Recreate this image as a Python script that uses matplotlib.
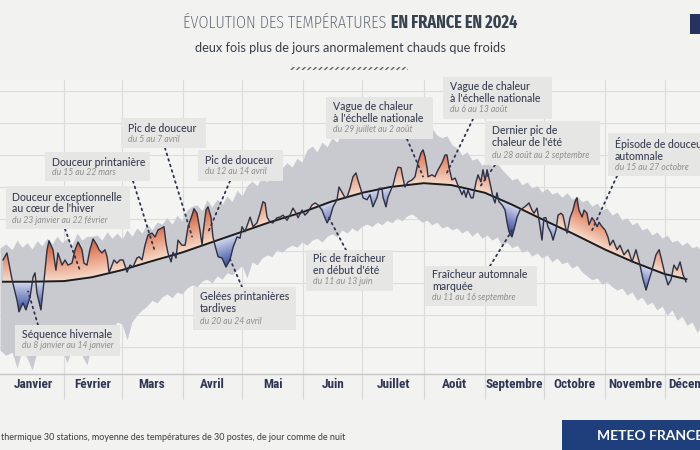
import os
import numpy as np
import matplotlib
matplotlib.use("Agg")
import matplotlib.pyplot as plt
from matplotlib.patches import Rectangle
from matplotlib.colors import LinearSegmentedColormap
from matplotlib import font_manager as fm

# ---------------- data (day of year 2024, °C) ----------------
month_names = ["Janvier", "Février", "Mars", "Avril", "Mai", "Juin", "Juillet",
               "Août", "Septembre", "Octobre", "Novembre", "Décembre"]
month_starts = [0, 31, 60, 91, 121, 152, 182, 213, 244, 274, 305, 335, 366]

temp_days = [0, 2.0, 4.6, 7.1, 8.1, 10.1, 11.6, 13.7, 15.2, 16.2, 17.2, 19.2, 20.3, 22.3, 23.3,
             25.3, 26.8, 27.8, 29.9, 31.4, 32.9, 34.9, 36.5, 38.0, 40.0, 41.0, 42.5, 44.0, 45.6,
             47.6, 48.6, 50.1, 51.6, 52.7, 53.7, 55.2, 56.2, 57.7, 59.2, 60.8, 62.8, 64.3, 65.8,
             67.8, 68.9, 70.4, 71.9, 73.4, 75.4, 77.0, 78.5, 80.5, 81.5, 82.5, 83.5, 85.1, 86.1,
             87.6, 88.6, 90.6, 92.2, 93.7, 95.7, 96.7, 98.2, 99.7, 100.8, 101.3, 102.8, 103.8,
             105.3, 106.3, 107.3, 108.9, 110.9, 112.9, 114.9, 116.5, 118.5, 120.0, 121.0, 122.5,
             125.1, 126.6, 128.6, 130.1, 131.6, 132.7, 133.7, 135.2, 136.7, 138.7, 140.3, 141.8,
             143.8, 145.3, 146.8, 148.4, 149.4, 151.4, 152.9, 154.4, 156.5, 158.0, 159.5, 161.5,
             163.0, 164.1, 165.6, 167.1, 169.1, 170.1, 171.6, 173.2, 174.2, 175.7, 177.2, 178.7,
             179.7, 181.3, 182.3, 184.3, 185.8, 187.3, 189.4, 190.4, 191.9, 192.4, 193.9, 194.9,
             197.0, 197.5, 199.0, 200.0, 201.5, 202.5, 203.5, 205.1, 207.1, 208.6, 210.1, 211.6,
             212.7, 213.7, 214.7, 215.2, 217.2, 218.7, 220.3, 222.3, 223.8, 224.8, 225.8, 227.3,
             228.9, 229.9, 231.4, 232.4, 233.4, 234.4, 235.4, 237.0, 238.0, 239.5, 240.5, 242.0,
             243.0, 244.1, 245.1, 246.6, 248.1, 249.1, 250.1, 251.1, 252.7, 254.2, 255.2, 256.2,
             257.7, 258.7, 260.3, 261.8, 263.3, 265.3, 266.3, 267.8, 268.9, 270.4, 271.4, 272.9,
             273.9, 274.9, 275.9, 277.5, 278.5, 280.0, 281.0, 282.5, 283.5, 285.1, 285.6, 287.1,
             288.6, 289.6, 290.6, 291.6, 293.2, 294.2, 295.7, 296.7, 298.2, 299.2, 300.8, 301.8,
             303.3, 304.8, 306.3, 307.3, 308.9, 310.9, 312.4, 314.4, 316.5, 318.5, 320.5, 322.5,
             324.1, 325.6, 327.1, 328.6, 330.6, 332.2, 333.7, 335.2, 336.7, 338.2, 339.7, 341.3,
             342.8, 344.3, 345.8]
temps = [8.6, 9.7, 5.5, 2.3, 0.5, 1.9, 0.8, 2.8, 5.9, 6.6, 3.4, 0.8, 3.9, 10.2, 11.6,
         10.2, 7.0, 9.7, 7.8, 8.6, 7.8, 8.1, 10.2, 11.4, 10.2, 8.1, 7.8, 10.2, 11.9,
         10.9, 10.2, 9.7, 10.2, 9.1, 6.6, 7.8, 8.6, 8.1, 8.6, 8.6, 6.7, 7.8, 7.5,
         8.9, 9.1, 8.6, 10.9, 12.5, 12.8, 12.2, 13.3, 13.6, 13.8, 11.3, 9.7, 8.3, 9.8,
         8.9, 11.7, 10.9, 10.9, 13.8, 15.6, 16.6, 15.9, 13.3, 10.9, 12.8, 16.4, 16.9,
         15.3, 12.2, 10.9, 9.1, 8.9, 7.5, 8.6, 10.6, 12.2, 12.0, 13.8, 13.0,
         15.3, 13.8, 14.4, 15.9, 17.7, 17.5, 15.3, 14.5, 14.4, 15.2, 15.3, 15.6,
         14.8, 15.6, 16.7, 15.9, 15.2, 16.4, 15.6, 16.1, 17.2, 17.5, 17.2, 16.4,
         15.2, 14.4, 15.3, 16.9, 18.0, 20.0, 19.2, 18.3, 18.4, 19.8, 21.6, 22.2,
         21.1, 19.5, 18.3, 18.0, 18.8, 16.9, 18.4, 19.8, 19.8, 18.4, 16.9, 18.4,
         20.0, 20.3, 22.2, 23.1, 23.0, 21.4, 20.0, 20.8, 21.1, 21.6, 23.8, 25.3,
         25.8, 24.7, 23.0, 21.6, 21.9, 21.6, 22.7, 23.8, 25.0, 25.0, 23.1, 21.1,
         21.4, 20.6, 19.5, 18.8, 19.5, 18.4, 19.5, 18.3, 18.3, 20.8, 21.9, 20.8,
         22.7, 21.1, 22.7, 20.6, 18.4, 17.5, 19.1, 17.7, 17.2, 16.4, 14.5, 13.0,
         12.2, 13.3, 15.3, 16.4, 16.7, 17.2, 17.5, 16.4, 15.9, 16.7, 14.8, 11.7,
         15.2, 15.2, 13.8, 12.8, 11.7, 13.3, 15.6, 15.9, 15.6, 13.3, 12.8, 15.2,
         16.4, 17.7, 18.3, 16.4, 15.3, 16.4, 15.9, 14.1, 15.2, 14.8, 13.8, 14.5,
         13.8, 13.3, 12.2, 10.9, 11.7, 10.2, 10.9, 9.4, 10.2, 8.3, 10.2, 7.8,
         5.5, 3.9, 5.5, 7.0, 9.4, 10.2, 8.3, 6.3, 4.7, 5.5, 7.8, 7.0,
         8.3, 6.3, 5.2]

normal_days = [0, 14, 31, 45, 60, 74, 91, 105, 121, 135, 152, 166, 182, 196, 213, 227,
               244, 258, 274, 288, 305, 319, 335, 346]
normal_vals = [5.2, 5.2, 5.3, 5.9, 7.0, 8.3, 9.8, 11.3, 13.0, 14.5, 16.1, 17.7, 19.1, 20.0,
               20.6, 20.3, 19.1, 17.2, 14.8, 12.8, 10.2, 8.3, 6.4, 5.6]

band_days = [-1.5, 1.5, 4.6, 7.1, 9.6, 12.2, 14.7, 17.2, 19.7, 22.3, 24.8, 27.3, 29.9, 32.4,
             34.9, 37.5, 40.0, 42.5, 45.1, 47.6, 50.1, 52.7, 55.2, 57.7, 60.3, 62.8, 65.3,
             67.8, 70.4, 72.9, 75.4, 78.0, 80.5, 83.0, 85.6, 88.1, 90.6, 93.2, 95.7, 98.2,
             100.8, 103.3, 105.8, 108.4, 110.9, 113.4, 115.9, 118.5, 121.0, 123.5, 126.1,
             128.6, 131.1, 133.7, 136.2, 138.7, 141.3, 143.8, 146.3, 148.9, 151.4, 153.9,
             156.5, 159.0, 161.5, 164.1, 166.6, 169.1, 171.6, 174.2, 176.7, 179.2, 181.8,
             184.3, 186.8, 189.4, 191.9, 194.4, 197.0, 199.5, 202.0, 204.6, 207.1, 209.6,
             212.2, 214.7, 217.2, 219.7, 222.3, 224.8, 227.3, 229.9, 232.4, 234.9, 237.5,
             240.0, 242.5, 245.1, 247.6, 250.1, 252.7, 255.2, 257.7, 260.3, 262.8, 265.3,
             267.8, 270.4, 272.9, 275.4, 278.0, 280.5, 283.0, 285.6, 288.1, 290.6, 293.2,
             295.7, 298.2, 300.8, 303.3, 305.8, 308.4, 310.9, 313.4, 315.9, 318.5, 321.0,
             323.5, 326.1, 328.6, 331.1, 333.7, 336.2, 338.7, 341.3, 343.8, 346.3, 348.9,
             351.4, 352.9]
band_high = [10.5, 11.1, 10.2, 11.7, 10.6, 11.3, 10.3, 11.6, 10.8, 12.0, 11.1, 12.3, 11.3, 12.0,
             10.9, 12.8, 11.7, 12.3, 12.3, 12.5, 11.7, 13.0, 12.0, 12.8, 11.9, 13.3, 12.3,
             13.6, 12.8, 14.2, 13.3, 14.5, 14.2, 15.2, 14.2, 15.6, 14.7, 16.4, 17.0, 17.2,
             16.3, 18.0, 16.9, 18.1, 17.3, 18.6, 17.7, 19.5, 18.6, 20.2, 20.9, 20.2, 21.6,
             20.8, 22.3, 21.4, 23.0, 23.8, 23.1, 24.5, 23.9, 25.8, 26.4, 25.5, 27.0, 26.3,
             27.7, 27.0, 28.6, 28.0, 29.5, 28.9, 29.8, 28.4, 29.2, 28.1, 29.5, 28.6, 29.8,
             29.2, 30.2, 28.9, 30.5, 29.7, 30.2, 28.9, 29.2, 28.1, 27.7, 28.0, 26.6, 26.1,
             25.0, 25.5, 24.2, 24.5, 23.4, 23.9, 23.3, 23.8, 22.7, 21.9, 21.1, 21.4, 20.3,
             20.8, 19.8, 20.2, 19.2, 19.8, 18.9, 19.2, 18.4, 19.1, 18.1, 18.6, 17.7, 18.0,
             17.0, 17.5, 16.4, 16.7, 15.6, 16.1, 14.8, 15.2, 14.1, 14.5, 13.3, 13.6, 12.5,
             13.0, 12.0, 12.5, 11.4, 11.7, 10.9, 11.4, 10.5, 10.8, 10.2]
band_low = [-5.5, -6.3, -5.8, -8.3, -5.5, -6.7, -8.6, -5.8, -5.0, -5.5, -4.8, -5.8, -5.2, -7.5,
            -5.3, -5.0, -6.3, -7.8, -4.5, -3.6, -2.8, -1.7, -2.3, -1.1, -1.4, -3.9, -1.1,
            0.0, 0.8, 1.4, 2.3, 1.9, 2.8, 3.3, 2.7, 3.6, 3.3, 4.2, 4.7, 4.4,
            5.3, 5.6, 5.0, 6.1, 5.6, 6.6, 6.3, 7.0, 7.7, 5.8, 8.3, 7.8, 8.9,
            9.4, 9.1, 10.2, 9.8, 10.5, 10.9, 10.6, 11.4, 10.9, 11.7, 12.0, 11.4, 12.3,
            12.7, 12.2, 13.3, 12.8, 13.6, 13.1, 13.9, 14.2, 13.8, 14.5, 14.1, 14.8, 14.4,
            15.2, 14.7, 15.5, 15.8, 15.2, 14.5, 14.8, 14.1, 14.5, 13.6, 13.9, 13.3, 13.6,
            12.8, 13.3, 12.3, 13.0, 12.0, 12.5, 11.7, 12.2, 10.9, 11.4, 10.5, 10.9, 9.8,
            10.2, 9.2, 9.7, 8.9, 9.4, 8.3, 8.9, 8.0, 8.3, 7.3, 7.8, 6.7, 6.1,
            5.5, 5.8, 4.8, 5.2, 4.4, 3.9, 4.2, 3.1, 3.6, 2.3, 2.8, 1.6, 2.0,
            0.8, 1.4, 0.0, 0.8, -0.8, -0.2, -1.6, -1.1, -2.7, -2.0]

# ---------------- fonts ----------------
SANS = ["Lato", "DejaVu Sans"]


def _wnum(w):
    if isinstance(w, (int, float)):
        return w
    table = {"ultralight": 200, "light": 300, "normal": 400, "regular": 400, "book": 400,
             "medium": 500, "semibold": 600, "demibold": 600, "bold": 700, "heavy": 800,
             "extra bold": 800, "black": 900}
    return table.get(str(w).lower(), 400)


def _cond_level(f, key):
    k = key.replace("-", "").replace(" ", "")
    st = str(f.stretch)
    if "extracondensed" in k or "ultracondensed" in k or st in ("extra-condensed", "ultra-condensed"):
        return 3
    if "semicondensed" in k or st == "semi-condensed":
        return 1
    if "condensed" in k or "narrow" in k or st == "condensed":
        return 2
    return 0


def pick_condensed(target_w, min_level, prefer_extra):
    pref = ["roboto", "liberation sans narrow", "open sans", "noto sans", "lato", "dejavu sans"]
    best, best_score = None, None
    for f in fm.fontManager.ttflist:
        key = (f.name + " " + os.path.basename(f.fname)).lower()
        lvl = _cond_level(f, key)
        if lvl < min_level or f.style != "normal" or "mono" in key:
            continue
        if "serif" in key and "sans" not in key:
            continue
        if "italic" in key:
            continue
        w = _wnum(f.weight)
        rank = next((i for i, p in enumerate(pref) if p in key), len(pref))
        cond_pen = (3 - lvl) if prefer_extra else abs(2 - lvl)
        score = (abs(w - target_w) // 100, cond_pen, rank)
        if best_score is None or score < best_score:
            best, best_score = f.fname, score
    if best:
        return fm.FontProperties(fname=best)
    return fm.FontProperties(family="Liberation Sans", weight="bold" if target_w >= 600 else "normal")


TITLE_REG = pick_condensed(300, 2, True)
TITLE_BOLD = pick_condensed(700, 2, True)
MONTH_FP = pick_condensed(700, 1, False)

# ---------------- figure ----------------
W, H = 700, 450
BG = "#f2f2f0"

fig = plt.figure(figsize=(7, 4.5), dpi=100)
fig.patch.set_facecolor(BG)


def fx(px):
    return px / W


def fy(py):
    return 1 - py / H


ax_top, ax_bot = 80, 374
ax = fig.add_axes([0, fy(ax_bot), 1, (ax_bot - ax_top) / H])
ax.set_facecolor("#f4f4f3")
ax.set_xlim(-1.52, 352.9)
ax.set_ylim((315 - ax_bot) / 6.4, (315 - ax_top) / 6.4)

for s in ["top", "left", "right"]:
    ax.spines[s].set_visible(False)
ax.spines["bottom"].set_color("#c6c6c6")
ax.spines["bottom"].set_linewidth(1.0)

ax.set_yticks(np.arange(-5, 40, 5))
ax.set_yticklabels([])
ax.tick_params(axis="y", length=0)
mids = [(month_starts[i] + month_starts[i + 1]) / 2 for i in range(12)]
ax.set_xticks(mids)
ax.set_xticklabels(month_names, color="#2e3654")
mfp = MONTH_FP.copy()
mfp.set_size(9.5)
for lbl in ax.get_xticklabels():
    lbl.set_fontproperties(mfp)
ax.set_xticks(month_starts[1:-1], minor=True)
ax.tick_params(axis="x", which="major", length=0, pad=3)
ax.tick_params(axis="x", which="minor", length=18, width=0.8, color="#d6d6d6")
ax.grid(axis="y", which="major", color="#dcdcdc", lw=0.8)
ax.grid(axis="x", which="minor", color="#dcdcdc", lw=0.8)
ax.set_axisbelow(True)

# grey envelope
ax.fill_between(band_days, band_low, band_high, color="#c9cad0", lw=0, zorder=1)

# anomaly fills with gradient by distance to normal
xf = np.linspace(temp_days[0], temp_days[-1], 5000)
tf = np.interp(xf, temp_days, temps)
nf = np.interp(xf, normal_days, normal_vals)
anom = tf - nf
red_cmap = LinearSegmentedColormap.from_list("r", ["#f5d8c6", "#e8997a", "#d0552f"])
blue_cmap = LinearSegmentedColormap.from_list("b", ["#cfd4ea", "#7f8ec6", "#33489a"])
for lv in np.arange(0, 7.5, 0.3):
    ax.fill_between(xf, nf + lv, tf, where=anom > lv, interpolate=True,
                    color=red_cmap(min(lv / 6.0, 1)), lw=0, zorder=2)
    ax.fill_between(xf, nf - lv, tf, where=anom < -lv, interpolate=True,
                    color=blue_cmap(min(lv / 4.5, 1)), lw=0, zorder=2)

ax.plot(normal_days, normal_vals, color="#1c1c1c", lw=1.4, zorder=3)
ax.plot(temp_days, temps, color="#2c3145", lw=1.0, zorder=4)


# ---------------- annotations ----------------
def label(lines, sub, box, tx, ys, start, anchor_day, frac):
    x0, y0, x1, y1 = box
    fig.add_artist(Rectangle((fx(x0), fy(y1)), (x1 - x0) / W, (y1 - y0) / H,
                             transform=fig.transFigure, facecolor="#e6e6e5",
                             edgecolor="none", zorder=5))
    for s, y in zip(lines, ys[:-1]):
        fig.text(fx(tx), fy(y), s, family=SANS, fontsize=7.6, color="#3a3f52",
                 fontweight="medium", va="center", ha="left", zorder=6)
    fig.text(fx(tx), fy(ys[-1]), sub, family=SANS, fontsize=6.2, style="italic",
             color="#8e8e8e", va="center", ha="left", zorder=6)
    t = np.interp(anchor_day, temp_days, temps)
    n = np.interp(anchor_day, normal_days, normal_vals)
    ax.annotate("", xy=(anchor_day, n + frac * (t - n)),
                xytext=(fx(start[0]), fy(start[1])), textcoords="figure fraction",
                arrowprops=dict(arrowstyle="-", linestyle=(0, (1, 2.2)), color="#2e3550",
                                lw=1.3, shrinkA=0, shrinkB=0),
                annotation_clip=False, zorder=5)


label(["Douceur exceptionnelle", "au cœur de l'hiver"], "du 23 janvier au 22 février",
      (6, 186, 130, 229), 12, [197, 209, 221], (65, 229), 39, 0.25)
label(["Douceur printanière"], "du 15 au 22 mars",
      (45, 152, 150, 181), 52, [163, 173], (133, 181), 77, 0.35)
label(["Pic de douceur"], "du 5 au 7 avril",
      (121, 118, 206, 148), 128, [128, 139], (165, 148), 95.7, 0.37)
label(["Pic de douceur"], "du 12 au 14 avril",
      (198, 150, 283, 181), 205, [161, 172], (230, 181), 103.8, 0.3)
label(["Gelées printanières", "tardives"], "du 20 au 24 avril",
      (193, 287, 296, 330), 200, [297, 309, 321], (242, 287), 114.4, 0.8)
label(["Vague de chaleur", "à l'échelle nationale"], "du 29 juillet au 2 août",
      (326, 97, 433, 139), 333, [107, 119, 130], (407, 139), 212.7, 0.2)
label(["Vague de chaleur", "à l'échelle nationale"], "du 6 au 13 août",
      (443, 77, 552, 119), 450, [87, 99, 110], (473, 119), 224.0, 0.3)
label(["Dernier pic de", "chaleur de l'été"], "du 28 août au 2 septembre",
      (485, 121, 600, 165), 492, [131, 143, 155], (495, 165), 241.5, 0.4)
label(["Épisode de douceur", "automnale"], "du 15 au 27 octobre",
      (608, 133, 705, 176), 615, [144, 156, 167], (617, 176), 298.2, 0.5)
label(["Pic de fraîcheur", "en début d'été"], "du 11 au 13 juin",
      (306, 250, 393, 291), 313, [259, 271, 281], (346, 250), 164.5, 0.7)
label(["Fraîcheur automnale", "marquée"], "du 11 au 16 septembre",
      (425, 266, 537, 306), 432, [275, 287, 298], (490, 266), 257.7, 0.8)
label(["Séquence hivernale"], "du 8 janvier au 14 janvier",
      (15, 325, 120, 356), 22, [335, 346], (38, 325), 12.7, 0.45)

# ---------------- title block ----------------
tfp1 = TITLE_REG.copy()
tfp2 = TITLE_BOLD.copy()
base = 16
tfp1.set_size(base)
tfp2.set_size(base)
t1 = fig.text(0, fy(23), "ÉVOLUTION DES TEMPÉRATURES", fontproperties=tfp1,
              color="#5c646e", va="center", ha="left")
t2 = fig.text(0, fy(23), "EN FRANCE EN 2024", fontproperties=tfp2,
              color="#38434f", va="center", ha="left")
fig.canvas.draw()
r = fig.canvas.get_renderer()
w1 = t1.get_window_extent(r).width
w2 = t2.get_window_extent(r).width
target = 334.0
scale = min(1.0, target / (w1 + w2 + 5))
if scale < 1.0:
    tfp1.set_size(base * scale)
    tfp2.set_size(base * scale)
    t1.set_fontproperties(tfp1)
    t2.set_fontproperties(tfp2)
    fig.canvas.draw()
    w1 = t1.get_window_extent(r).width
    w2 = t2.get_window_extent(r).width
gap = 5
x_start = (W - (w1 + gap + w2)) / 2
t1.set_x(fx(x_start))
t2.set_x(fx(x_start + w1 + gap))

fig.text(0.5, fy(48), "deux fois plus de jours anormalement chauds que froids",
         family=SANS, fontsize=9.2, color="#3a3f4c", ha="center", va="center")
fig.add_artist(Rectangle((fx(290), fy(70)), 118 / W, 3 / H, transform=fig.transFigure,
                         facecolor="none", edgecolor="#666666", hatch="//////", lw=0))
fig.add_artist(Rectangle((fx(690), fy(34)), 10 / W, 20 / H, transform=fig.transFigure,
                         facecolor="#27335e", edgecolor="none"))

# ---------------- footer ----------------
fig.text(fx(1), fy(437), "thermique 30 stations, moyenne des températures de 30 postes, de jour comme de nuit",
         family=SANS, fontsize=6.5, color="#3c3c3c", ha="left", va="center")
fig.add_artist(Rectangle((fx(562), fy(450)), 138 / W, 30 / H, transform=fig.transFigure,
                         facecolor="#1f3f7c", edgecolor="none"))
fig.text(fx(597), fy(436), "METEO FRANCE", family=SANS, fontsize=10, fontweight="bold",
         color="white", ha="left", va="center")

fig.savefig("out.png", dpi=100, facecolor=BG)
